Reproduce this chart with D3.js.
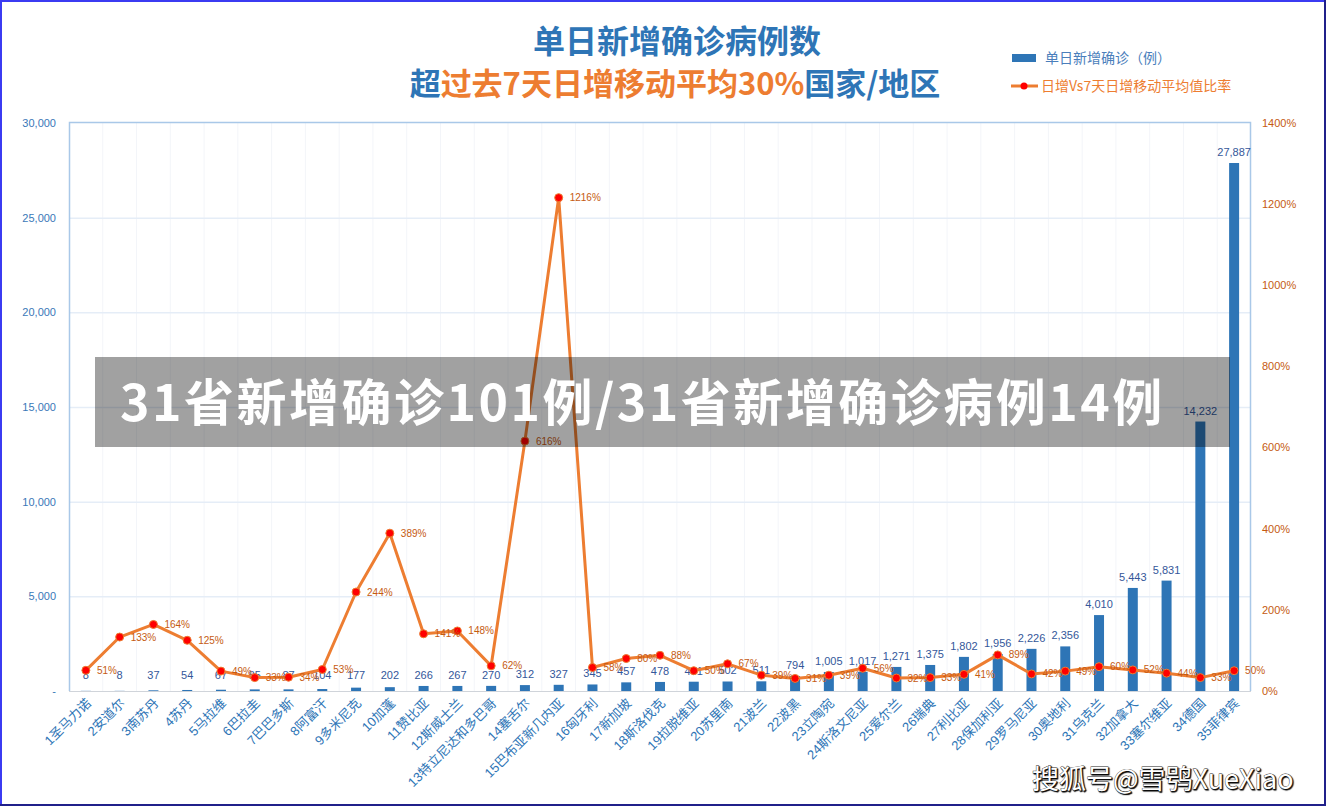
<!DOCTYPE html>
<html>
<head>
<meta charset="utf-8">
<script src="https://cdn.jsdelivr.net/npm/d3@7"></script>
<style>
  html, body { margin: 0; padding: 0; background: #fff; }
  svg { display: block; font-family: "Liberation Sans", "Noto Sans CJK SC", sans-serif; }
</style>
</head>
<body>
<div id="chart"></div>
<script>
const countries = ["1圣马力诺", "2安道尔", "3南苏丹", "4苏丹", "5马拉维", "6巴拉圭", "7巴巴多斯", "8阿富汗",
    "9多米尼克", "10加蓬", "11赞比亚", "12斯威士兰", "13特立尼达和多巴哥", "14塞舌尔", "15巴布亚新几内亚",
    "16匈牙利", "17新加坡", "18斯洛伐克", "19拉脱维亚", "20苏里南", "21波兰", "22波黑", "23立陶宛",
    "24斯洛文尼亚", "25爱尔兰", "26瑞典", "27利比亚", "28保加利亚", "29罗马尼亚", "30奥地利", "31乌克兰",
    "32加拿大", "33塞尔维亚", "34德国", "35菲律宾"];
const dailyCases = [8, 8, 37, 54, 67, 85, 87, 104, 177, 202, 266, 267, 270, 312, 327, 345, 457, 478, 491,
    502, 511, 794, 1005, 1017, 1271, 1375, 1802, 1956, 2226, 2356, 4010, 5443, 5831, 14232, 27887];
const ratioPct = [51, 133, 164, 125, 49, 33, 34, 53, 244, 389, 141, 148, 62, 616, 1216, 58, 80, 88, 50,
    67, 39, 31, 39, 56, 32, 33, 41, 89, 42, 49, 60, 52, 44, 33, 50];
const leftTicks = [0, 5000, 10000, 15000, 20000, 25000, 30000];
const rightTicks = [0, 200, 400, 600, 800, 1000, 1200, 1400];

const width = 1326, height = 806;
const blue = "#2E75B6", orange = "#ED7D31";

const data = countries.map((c, i) => ({ name: c, cases: dailyCases[i], pct: ratioPct[i] }));

const svg = d3.select("#chart").append("svg")
    .attr("width", width)
    .attr("height", height);

const x = d3.scaleBand().domain(countries).range([69, 1251]);
const y = d3.scaleLinear().domain([0, 30000]).range([691, 123]);
const y2 = d3.scaleLinear().domain([0, 1400]).range([691, 123]);

// grid
svg.append("g").selectAll("line")
    .data(countries.slice(1))
    .join("line")
    .attr("x1", d => x(d)).attr("x2", d => x(d))
    .attr("y1", 123).attr("y2", 691)
    .attr("stroke", "#F3F5F9").attr("stroke-width", 1);

svg.append("g").selectAll("line")
    .data(leftTicks.slice(1, -1))
    .join("line")
    .attr("x1", 69).attr("x2", 1251)
    .attr("y1", d => y(d) + 0.5).attr("y2", d => y(d) + 0.5)
    .attr("stroke", "#E5EDF7").attr("stroke-width", 1.5);

// plot border (left/top/right light blue, bottom grey)
svg.append("path")
    .attr("d", `M69.5,691 V122.5 H1250.5 V691`)
    .attr("fill", "none").attr("stroke", "#A9C8E8").attr("stroke-width", 1.5);
svg.append("line")
    .attr("x1", 69).attr("x2", 1251).attr("y1", 691.5).attr("y2", 691.5)
    .attr("stroke", "#D0D4DA").attr("stroke-width", 1);

// left axis labels
svg.append("g").selectAll("text")
    .data(leftTicks)
    .join("text")
    .attr("x", 56)
    .attr("y", d => y(d))
    .attr("dy", "0.35em")
    .attr("text-anchor", "end")
    .attr("font-size", 11)
    .attr("fill", "#3A78B8")
    .text(d => d === 0 ? "-" : d3.format(",")(d));

// right axis labels
svg.append("g").selectAll("text")
    .data(rightTicks)
    .join("text")
    .attr("x", 1262)
    .attr("y", d => y2(d))
    .attr("dy", "0.35em")
    .attr("font-size", 11)
    .attr("fill", "#C55A11")
    .text(d => d + "%");

// bars
svg.append("g").selectAll("rect")
    .data(data)
    .join("rect")
    .attr("x", d => x(d.name) + x.bandwidth() / 2 - 5)
    .attr("width", 10)
    .attr("y", d => y(d.cases))
    .attr("height", d => y(0) - y(d.cases))
    .attr("fill", blue);

svg.append("g").selectAll("text")
    .data(data)
    .join("text")
    .attr("x", d => x(d.name) + x.bandwidth() / 2)
    .attr("y", d => Math.min(y(d.cases), 686) - 7)
    .attr("text-anchor", "middle")
    .attr("font-size", 11)
    .attr("fill", "#34579A")
    .text(d => d3.format(",")(d.cases));

// x labels
svg.append("g").selectAll("text")
    .data(countries)
    .join("text")
    .attr("transform", d => `translate(${x(d) + x.bandwidth() / 2 + 6},${704}) rotate(-45)`)
    .attr("text-anchor", "end")
    .attr("font-size", 13)
    .attr("fill", blue)
    .text(d => d);

// line
const line = d3.line()
    .x(d => x(d.name) + x.bandwidth() / 2)
    .y(d => y2(d.pct));

svg.append("path")
    .datum(data)
    .attr("d", line)
    .attr("fill", "none")
    .attr("stroke", orange)
    .attr("stroke-width", 3)
    .attr("stroke-linejoin", "round");

svg.append("g").selectAll("circle")
    .data(data)
    .join("circle")
    .attr("cx", d => x(d.name) + x.bandwidth() / 2)
    .attr("cy", d => y2(d.pct))
    .attr("r", 4)
    .attr("fill", "#FF0000")
    .attr("stroke", orange)
    .attr("stroke-width", 1);

svg.append("g").selectAll("text")
    .data(data)
    .join("text")
    .attr("x", d => x(d.name) + x.bandwidth() / 2 + 11)
    .attr("y", d => y2(d.pct))
    .attr("dy", "0.35em")
    .attr("font-size", 10)
    .attr("fill", "#C55A11")
    .text(d => d.pct + "%");

// title
svg.append("text")
    .attr("x", 677).attr("y", 53)
    .attr("text-anchor", "middle")
    .attr("font-family", "Noto Sans CJK SC")
    .attr("font-weight", "bold")
    .attr("font-size", 32)
    .attr("fill", blue)
    .text("单日新增确诊病例数");

const sub = svg.append("text")
    .attr("x", 675).attr("y", 95)
    .attr("text-anchor", "middle")
    .attr("font-family", "Noto Sans CJK SC")
    .attr("font-weight", "bold")
    .attr("font-size", 31);
sub.append("tspan").attr("fill", blue).text("超");
sub.append("tspan").attr("fill", orange).text("过去7天日增移动平均30%");
sub.append("tspan").attr("fill", blue).text("国家/地区");

// legend
const legend = svg.append("g");
legend.append("rect")
    .attr("x", 1012).attr("y", 54).attr("width", 24).attr("height", 8)
    .attr("fill", blue);
legend.append("text")
    .attr("x", 1045).attr("y", 58).attr("dy", "0.35em")
    .attr("font-family", "Noto Sans CJK SC")
    .attr("font-size", 14).attr("fill", "#4A7EBB")
    .text("单日新增确诊（例）");
legend.append("line")
    .attr("x1", 1011).attr("x2", 1038).attr("y1", 86).attr("y2", 86)
    .attr("stroke", orange).attr("stroke-width", 3);
legend.append("circle")
    .attr("cx", 1024).attr("cy", 86).attr("r", 3.5)
    .attr("fill", "#FF0000");
legend.append("text")
    .attr("x", 1041).attr("y", 86).attr("dy", "0.35em")
    .attr("font-family", "Noto Sans CJK SC")
    .attr("font-size", 14).attr("fill", orange)
    .text("日增Vs7天日增移动平均值比率");

// overlay banner
svg.append("rect")
    .attr("x", 95).attr("y", 357).attr("width", 1135).attr("height", 90)
    .attr("fill", "rgba(0,0,0,0.37)");
svg.append("text")
    .attr("x", 120).attr("y", 421)
    .attr("font-family", "Noto Sans CJK SC")
    .attr("font-weight", "bold")
    .attr("font-size", 50)
    .attr("letter-spacing", 2.5)
    .attr("fill", "#fff")
    .text("31省新增确诊101例/31省新增确诊病例14例");

// watermark
svg.append("text")
    .attr("x", 1032).attr("y", 789)
    .attr("font-family", "Noto Sans CJK SC")
    .attr("font-size", 27)
    .attr("fill", "#fff")
    .attr("stroke", "#333")
    .attr("stroke-width", 0.8)
    .attr("paint-order", "stroke")
    .style("text-shadow", "1px 1px 1px #000")
    .text("搜狐号@雪鸮XueXiao");

// frame
svg.append("path").attr("d", "M1,806 V1 H1326").attr("fill", "none")
    .attr("stroke", "#3B3BF2").attr("stroke-width", 2);
svg.append("path").attr("d", "M0,805 H1325 V0").attr("fill", "none")
    .attr("stroke", "#20208A").attr("stroke-width", 2);
</script>
</body>
</html>
